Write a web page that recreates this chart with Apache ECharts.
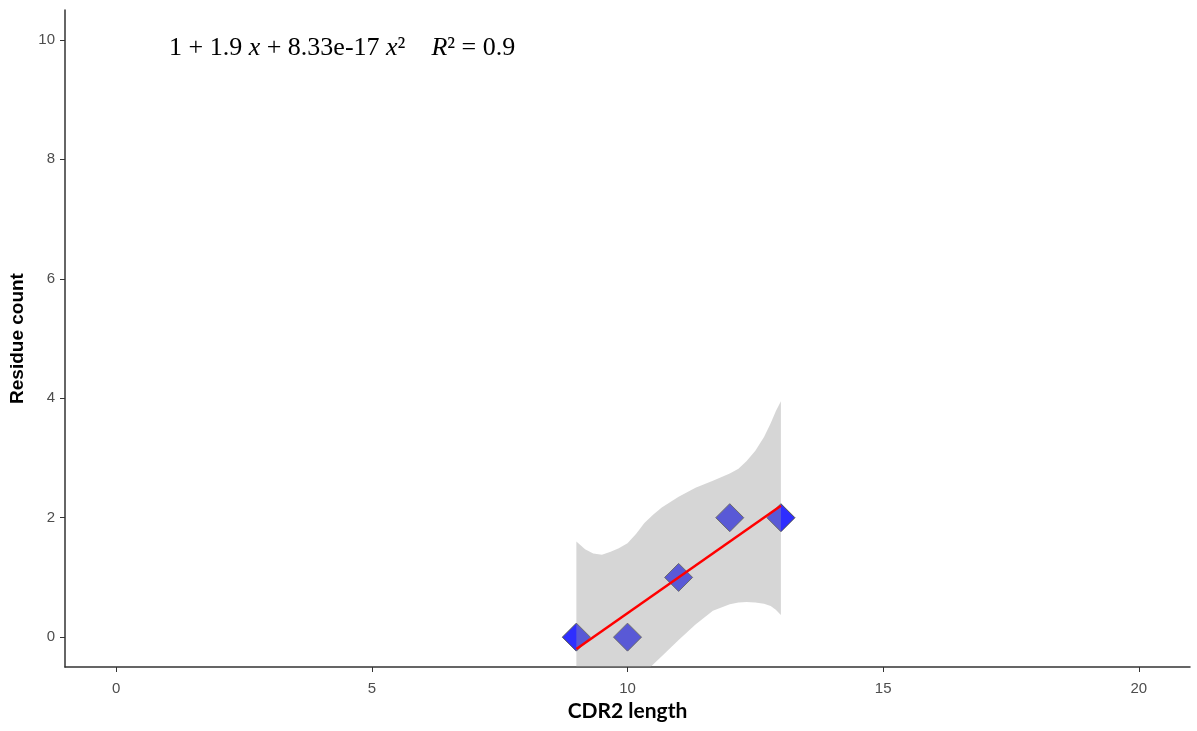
<!DOCTYPE html>
<html>
<head>
<meta charset="utf-8">
<script src="https://cdn.jsdelivr.net/npm/echarts@6/dist/echarts.min.js"></script>
<style>
    html, body { margin: 0; padding: 0; background: #fff; }
    #main { width: 1197px; height: 731px; }
</style>
</head>
<body>
<div id="main"></div>
<script>
// CDR2 length vs residue count
var cdrLength = [9, 10, 11, 12, 13];
var residueCount = [0, 0, 1, 2, 2];

// fitted line ends
var fitX = [9, 13];
var fitY = [-0.2, 2.2];

// confidence band
var bandX = [9, 9.17, 9.33, 9.5, 9.67, 9.83, 10, 10.17, 10.33, 10.5, 10.67, 11, 11.33, 11.67, 12, 12.17, 12.33, 12.5, 12.67, 12.8, 12.9, 13];
var bandUpper = [1.60, 1.47, 1.40, 1.38, 1.43, 1.49, 1.57, 1.73, 1.91, 2.05, 2.17, 2.35, 2.50, 2.62, 2.74, 2.82, 2.95, 3.12, 3.35, 3.58, 3.78, 3.95];
var bandLower = [-2.0, -1.8, -1.6, -1.4, -1.2, -1.02, -0.85, -0.72, -0.6, -0.46, -0.32, -0.05, 0.21, 0.44, 0.55, 0.58, 0.59, 0.58, 0.56, 0.52, 0.46, 0.37];

var xTicks = [0, 5, 10, 15, 20];
var yTicks = [0, 2, 4, 6, 8, 10];

var bandData = bandX.map(function (x, i) { return [x, bandLower[i], bandUpper[i]]; });
var pointData = cdrLength.map(function (x, i) { return [x, residueCount[i]]; });
var fitData = fitX.map(function (x, i) { return [x, fitY[i]]; });

var chart = echarts.init(document.getElementById('main'));
var axisColor = '#333333';
var labelColor = '#4d4d4d';

// band as one polygon: upper edge left->right, lower edge right->left
function renderBand(params, api) {
    if (params.dataIndex !== 0) return;
    var pts = [], i;
    for (i = 0; i < bandData.length; i++) {
        pts.push(api.coord([bandData[i][0], bandData[i][2]]));
    }
    for (i = bandData.length - 1; i >= 0; i--) {
        pts.push(api.coord([bandData[i][0], bandData[i][1]]));
    }
    return {
        type: 'polygon',
        shape: {points: pts},
        style: {fill: 'rgba(153,153,153,0.4)'}
    };
}

chart.setOption({
    animation: false,
    title: {
        left: 164,
        top: 30,
        text: '{n|1 + 1.9 }{i|x}{n| + 8.33e-17 }{i|x}{n|²    }{i|R}{n|² = 0.9}',
        textStyle: {
            fontWeight: 'normal',
            rich: {
                n: {fontFamily: 'Liberation Serif', fontSize: 26, fontWeight: 'normal', color: '#000'},
                i: {fontFamily: 'Liberation Serif', fontSize: 26, fontWeight: 'normal', fontStyle: 'italic', color: '#000'}
            }
        }
    },
    grid: {left: 65, right: 7, top: 10, bottom: 64},
    xAxis: {
        type: 'value',
        min: -1,
        max: 21,
        name: 'CDR2 length',
        nameLocation: 'middle',
        nameGap: 34,
        nameTextStyle: {fontFamily: 'Lato', fontWeight: 'bold', fontSize: 21, color: '#000'},
        axisLine: {onZero: false, lineStyle: {color: axisColor, width: 1.5}},
        axisTick: {show: true, length: 5, customValues: xTicks, lineStyle: {color: axisColor}},
        axisLabel: {customValues: xTicks, margin: 14, color: labelColor, fontSize: 15, fontFamily: 'Liberation Sans'},
        splitLine: {show: false}
    },
    yAxis: {
        type: 'value',
        min: -0.5,
        max: 10.5,
        name: 'Residue count',
        nameLocation: 'middle',
        nameGap: 36,
        nameTextStyle: {fontFamily: 'Liberation Sans', fontWeight: 'bold', fontSize: 19, color: '#000'},
        axisLine: {show: true, onZero: false, lineStyle: {color: axisColor, width: 1.5}},
        axisTick: {show: true, length: 5, customValues: yTicks, lineStyle: {color: axisColor}},
        axisLabel: {customValues: yTicks, margin: 10, color: labelColor, fontSize: 15, fontFamily: 'Liberation Sans'},
        splitLine: {show: false}
    },
    series: [
        {
            type: 'scatter',
            data: pointData,
            symbol: 'diamond',
            symbolSize: 28,
            z: 1,
            itemStyle: {color: 'rgba(0,0,255,0.82)', opacity: 1, borderColor: '#4a4a4a', borderWidth: 1}
        },
        {
            type: 'custom',
            data: bandData,
            renderItem: renderBand,
            clip: true,
            silent: true,
            z: 2
        },
        {
            type: 'line',
            data: fitData,
            symbol: 'none',
            z: 3,
            lineStyle: {color: '#ff0000', width: 2.5}
        }
    ]
});
</script>
</body>
</html>
